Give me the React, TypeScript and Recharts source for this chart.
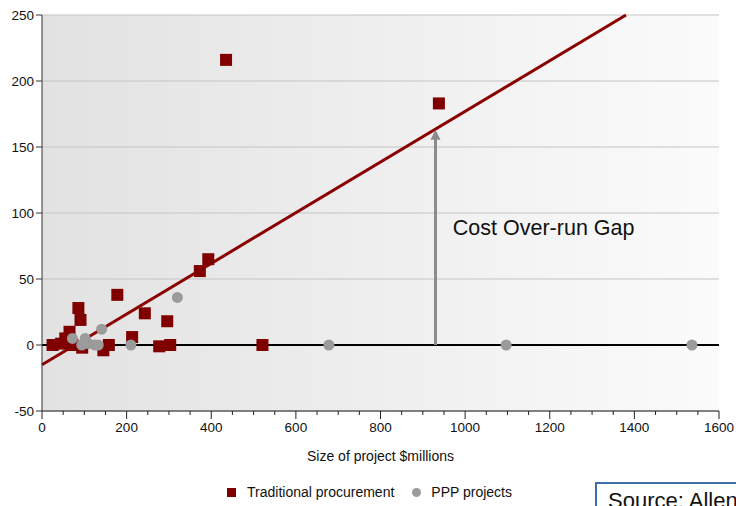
import React from 'react';
import {
  ScatterChart,
  Scatter,
  XAxis,
  YAxis,
  CartesianGrid,
  ReferenceLine,
  ReferenceDot,
} from 'recharts';

// [size $m, cost over-run %]
const traditional = [
  [25, 0], [45, 1], [55, 5], [65, 10], [72, 0], [86, 28], [91, 19], [95, -2],
  [145, -4], [158, 0], [178, 38], [213, 6], [243, 24], [277, -1], [296, 18],
  [303, 0], [373, 56], [393, 65], [435, 216], [521, 0], [938, 183],
];
const ppp = [
  [72, 5], [94, 0], [102, 5], [110, 1], [125, 0], [133, 0], [141, 12],
  [210, 0], [320, 36], [678, 0], [1097, 0], [1536, 0],
];

const yTicks = [-50, 0, 50, 100, 150, 200, 250];
const xMajorTicks = [0, 200, 400, 600, 800, 1000, 1200, 1400, 1600];
const xMinorStep = 50;

// fitted trend for traditional procurement
const trendIntercept = -15;
const trendSlope = 0.192;

// the gap arrow
const gapX = 930;
const gapTop = 163;
const gapLabel = { x: 971, y: 88, text: 'Cost Over-run Gap' };

const tradData = traditional.map(([x, y]) => ({ x, y }));
const pppData = ppp.map(([x, y]) => ({ x, y }));
const xTicks: number[] = [];
for (let v = 0; v <= 1600; v += xMinorStep) xTicks.push(v);

const FONT = '"Liberation Sans", Arial, sans-serif';
const MAROON = '#800000';
const GREY = '#9b9b9b';

const SquareDot = (props: any) => {
  const { cx, cy } = props;
  if (cx == null || cy == null) return null;
  return <rect x={cx - 6} y={cy - 6} width={12} height={12} fill={MAROON} />;
};

const RoundDot = (props: any) => {
  const { cx, cy } = props;
  if (cx == null || cy == null) return null;
  return <circle cx={cx} cy={cy} r={5.5} fill={GREY} />;
};

const XTick = (props: any) => {
  const { x, y, payload } = props;
  const major = xMajorTicks.includes(payload.value);
  return (
    <g>
      <line x1={x} x2={x} y1={y} y2={y + (major ? 8 : 4)} stroke="#222" strokeWidth={1} />
      {major && (
        <text x={x} y={y + 11} dy="0.71em" textAnchor="middle" fontSize={13.5} fill="#111" fontFamily={FONT}>
          {payload.value}
        </text>
      )}
    </g>
  );
};

const GapArrow = (props: any) => {
  const { x1, y1, x2, y2 } = props;
  if (x1 == null) return null;
  const top = Math.min(y1, y2);
  const bottom = Math.max(y1, y2);
  return (
    <g>
      <line x1={x1} x2={x2} y1={bottom} y2={top + 8} stroke="#8c8c8c" strokeWidth={3} />
      <polygon points={`${x1 - 5},${top + 10} ${x1 + 5},${top + 10} ${x1},${top}`} fill="#8c8c8c" />
    </g>
  );
};

const GapText = (props: any) => {
  const { viewBox } = props;
  if (!viewBox) return null;
  const cx = viewBox.cx ?? viewBox.x;
  const cy = viewBox.cy ?? viewBox.y;
  return (
    <text x={cx} y={cy} dominantBaseline="middle" fontSize={21.5} fill="#111" fontFamily={FONT}>
      {gapLabel.text}
    </text>
  );
};

export default function App() {
  const trendEndX = (250 - trendIntercept) / trendSlope;
  return (
    <div
      style={{
        position: 'absolute',
        left: 0,
        top: 0,
        width: 736,
        height: 506,
        overflow: 'hidden',
        background: '#fff',
        fontFamily: FONT,
      }}
    >
      <ScatterChart width={736} height={506} margin={{ top: 15, right: 17, bottom: 35, left: 0 }}>
        <defs>
          <linearGradient id="plotBg" x1="0" y1="0" x2="1" y2="0">
            <stop offset="0%" stopColor="#e2e2e2" />
            <stop offset="100%" stopColor="#fbfbfb" />
          </linearGradient>
        </defs>
        <CartesianGrid vertical={false} stroke="#c4c4c4" fill="url(#plotBg)" />
        <XAxis
          type="number"
          dataKey="x"
          domain={[0, 1600]}
          ticks={xTicks}
          interval={0}
          height={60}
          tickSize={0}
          tickMargin={0}
          tick={<XTick />}
          stroke="#222"
          label={{ value: 'Size of project $millions', position: 'insideBottom', offset: 10, fontSize: 14, fill: '#111', fontFamily: FONT }}
        />
        <YAxis
          type="number"
          dataKey="y"
          domain={[-50, 250]}
          ticks={yTicks}
          interval={0}
          width={42}
          tickSize={6}
          tickMargin={2}
          stroke="#333"
          tick={{ fontSize: 13.5, fill: '#111', fontFamily: FONT }}
        />
        <ReferenceLine y={0} stroke="#000" strokeWidth={2} />
        <ReferenceLine
          segment={[{ x: 0, y: trendIntercept }, { x: trendEndX, y: 250 }]}
          stroke="#8b0000"
          strokeWidth={3}
        />
        <ReferenceLine segment={[{ x: gapX, y: 0 }, { x: gapX, y: gapTop }]} shape={<GapArrow />} />
        <ReferenceDot x={gapLabel.x} y={gapLabel.y} r={0} fill="none" stroke="none" label={<GapText />} />
        <Scatter name="Traditional procurement" data={tradData} shape={<SquareDot />} isAnimationActive={false} />
        <Scatter name="PPP projects" data={pppData} shape={<RoundDot />} isAnimationActive={false} />
      </ScatterChart>

      <div
        style={{
          position: 'absolute',
          top: 484,
          left: 227,
          display: 'flex',
          alignItems: 'center',
          fontSize: 14,
          color: '#111',
        }}
      >
        <span style={{ width: 9, height: 9, background: MAROON, display: 'inline-block', marginRight: 11 }} />
        <span>Traditional procurement</span>
        <span
          style={{ width: 9, height: 9, borderRadius: '50%', background: GREY, display: 'inline-block', margin: '0 10px 0 18px' }}
        />
        <span>PPP projects</span>
      </div>

      <div
        style={{
          position: 'absolute',
          top: 482,
          left: 595,
          width: 200,
          height: 60,
          border: '2px solid #3d6fa8',
          boxSizing: 'border-box',
          padding: '4px 0 0 11px',
          fontSize: 22,
          color: '#111',
          whiteSpace: 'nowrap',
        }}
      >
        Source: Allen
      </div>
    </div>
  );
}
